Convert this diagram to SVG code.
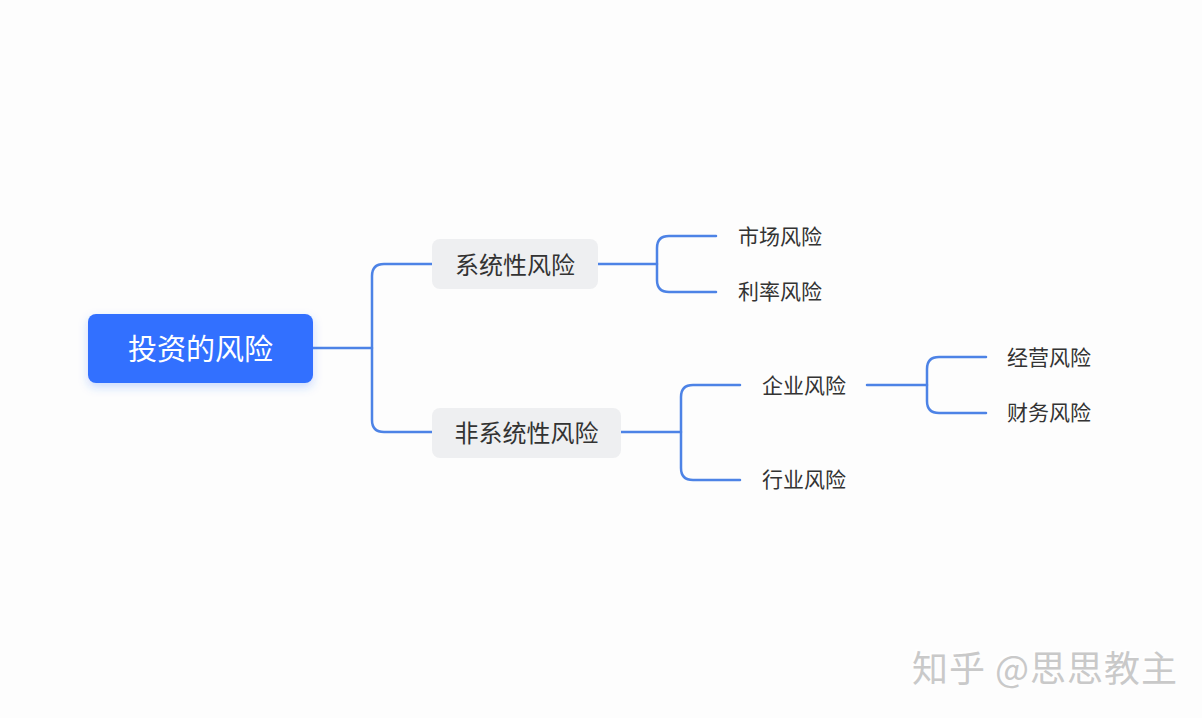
<svg xmlns="http://www.w3.org/2000/svg" width="1202" height="718" viewBox="0 0 1202 718">
<defs>
<style>
.t{font-family:"Noto Sans CJK SC","Noto Sans",sans-serif;fill:#333;dominant-baseline:central}
.lv1{font-size:24px;text-anchor:middle}
.lv2{font-size:21px}
.box{fill:#eeeff1}
.c{fill:none;stroke:#4d83e6;stroke-width:2.5;stroke-linecap:round}
</style>
<filter id="sh" x="-20%" y="-30%" width="140%" height="170%">
<feDropShadow dx="0" dy="4" stdDeviation="5" flood-color="#3370ff" flood-opacity="0.25"/>
</filter>
</defs>
<rect width="1202" height="718" fill="#fdfdfd"/>
<g id="connectors">
<path class="c" d="M313,348 H372"/>
<path class="c" d="M432,264 H384 Q372,264 372,276 V420 Q372,432 384,432 H432"/>
<path class="c" d="M598,264 H657"/>
<path class="c" d="M716,236 H669 Q657,236 657,248 V280 Q657,292 669,292 H716"/>
<path class="c" d="M621,432 H681"/>
<path class="c" d="M740,385 H693 Q681,385 681,397 V468 Q681,480 693,480 H740"/>
<path class="c" d="M867,385 H927"/>
<path class="c" d="M986,357 H939 Q927,357 927,369 V401 Q927,413 939,413 H986"/>
</g>
<g id="root">
<rect x="88" y="314" width="225" height="69" rx="8" fill="#3370ff" filter="url(#sh)"/>
<text class="t" x="200.5" y="347" font-size="29" text-anchor="middle" style="fill:#fff">投资的风险</text>
</g>
<g id="n-sys">
<rect class="box" x="432" y="239" width="166" height="50" rx="8"/>
<text class="t lv1" x="515" y="263">系统性风险</text>
</g>
<g id="n-unsys">
<rect class="box" x="432" y="408" width="189" height="50" rx="8"/>
<text class="t lv1" x="526.5" y="431">非系统性风险</text>
</g>
<g id="n-market"><text class="t lv2" x="738" y="235">市场风险</text></g>
<g id="n-rate"><text class="t lv2" x="738" y="290">利率风险</text></g>
<g id="n-firm"><text class="t lv2" x="762" y="384">企业风险</text></g>
<g id="n-industry"><text class="t lv2" x="762" y="478">行业风险</text></g>
<g id="n-ops"><text class="t lv2" x="1007" y="356">经营风险</text></g>
<g id="n-fin"><text class="t lv2" x="1007" y="411">财务风险</text></g>
<g id="watermark">
<text x="912" y="666" font-family="Noto Sans CJK SC, sans-serif" font-size="36" letter-spacing="1" fill="#fff" dominant-baseline="central" transform="translate(-2,-2)">知乎 @思思教主</text>
<text x="912" y="666" font-family="Noto Sans CJK SC, sans-serif" font-size="36" letter-spacing="1" fill="#c9c9c9" dominant-baseline="central">知乎 @思思教主</text>
</g>
</svg>
